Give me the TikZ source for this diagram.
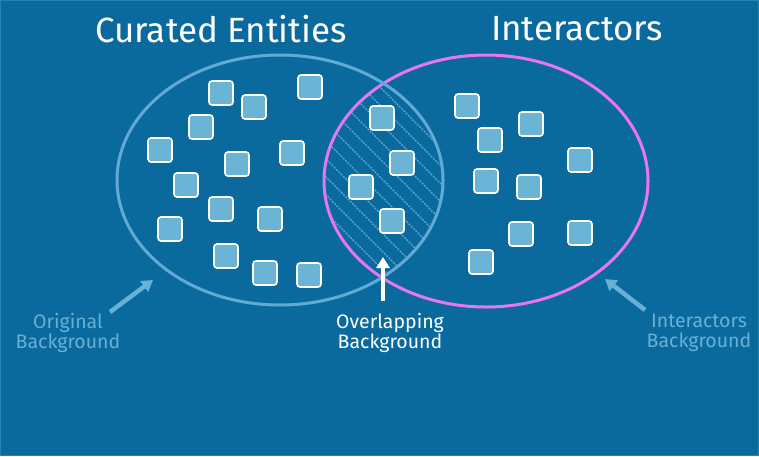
\documentclass[tikz,border=0pt]{standalone}
\usepackage{fontspec}
\setmainfont{Fira Sans}
\usetikzlibrary{arrows.meta}
\definecolor{bg}{RGB}{10,106,158}
\definecolor{edgebg}{RGB}{40,130,180}
\definecolor{sqfill}{RGB}{107,180,214}
\definecolor{leftring}{RGB}{98,170,214}
\definecolor{rightring}{RGB}{232,118,240}
\definecolor{lbltext}{RGB}{104,176,212}
\tikzset{
  sq/.style={draw=white, fill=sqfill, line width=1.6pt, rounded corners=3pt,
    minimum size=24pt, inner sep=0pt},
  titletext/.style={text=white, font=\fontsize{35}{40}\selectfont, inner sep=0pt},
  sidetext/.style={font=\fontsize{19.5}{19.5}\selectfont, align=center, inner sep=0pt},
  hatch/.style={draw=leftring, line width=1.3pt, dash pattern=on 2pt off 1.2pt},
  ptr/.style={line width=4.5pt, -{Triangle[width=13pt,length=11pt]}},
}
\begin{document}
\begin{tikzpicture}[x=1pt,y=-1pt]
\useasboundingbox (0,0) rectangle (759,456);
\fill[bg] (0,0) rectangle (759,456);
\draw[edgebg, line width=1pt] (0.5,0.5) rectangle (758.5,455.5);

% hatched overlap
\begin{scope}
  \clip (280,180) ellipse [x radius=163pt, y radius=125pt];
  \clip (486,181) ellipse [x radius=162pt, y radius=126pt];
  \foreach \k in {-14,...,14}
    \draw[hatch] ({383+\k*18-160},20) -- ++(320,320);
\end{scope}

% rings
\draw[rightring, line width=3pt] (486,181) ellipse [x radius=162pt, y radius=126pt];
\draw[leftring, line width=3pt] (280,180) ellipse [x radius=163pt, y radius=125pt];

% left squares
\node[sq] (l1) at (221,93) {};
\node[sq] (l2) at (254,107) {};
\node[sq] (l3) at (310,87) {};
\node[sq] (l4) at (201,127) {};
\node[sq] (l5) at (160,150) {};
\node[sq] (l6) at (237,164) {};
\node[sq] (l7) at (292,153) {};
\node[sq] (l8) at (186,185) {};
\node[sq] (l9) at (170,229) {};
\node[sq] (l10) at (221,209) {};
\node[sq] (l11) at (270,219) {};
\node[sq] (l12) at (226,256) {};
\node[sq] (l13) at (265,273) {};
\node[sq] (l14) at (309,275) {};

% overlap squares
\node[sq] (o1) at (382,118) {};
\node[sq] (o2) at (402,163) {};
\node[sq] (o3) at (361,187) {};
\node[sq] (o4) at (392,221) {};

% right squares
\node[sq] (r1) at (467,106) {};
\node[sq] (r2) at (531,124) {};
\node[sq] (r3) at (490,140) {};
\node[sq] (r4) at (580,160) {};
\node[sq] (r5) at (486,181) {};
\node[sq] (r6) at (529,187) {};
\node[sq] (r7) at (521,234) {};
\node[sq] (r8) at (580,233) {};
\node[sq] (r9) at (481,262) {};

% titles
\node[titletext] (t1) at (221,29) {Curated Entities};
\node[titletext] (t2) at (577,29) {Interactors};

% labels
\node[sidetext, text=lbltext] (ob) at (68,333) {Original\\Background};
\node[sidetext, text=white] (ovb) at (390,333) {Overlapping\\Background};
\node[sidetext, text=lbltext] (ib) at (699,333) {Interactors\\Background};

% pointers
\coordinate (obtail) at (110,312);
\coordinate (obtip) at (153,280);
\coordinate (ovtail) at (383,301);
\coordinate (ovtip) at (383,257);
\coordinate (ibtail) at (645,310);
\coordinate (ibtip) at (605,279);
\draw[ptr, lbltext] (obtail) -- (obtip);
\draw[ptr, white] (ovtail) -- (ovtip);
\draw[ptr, lbltext] (ibtail) -- (ibtip);
\end{tikzpicture}
\end{document}
